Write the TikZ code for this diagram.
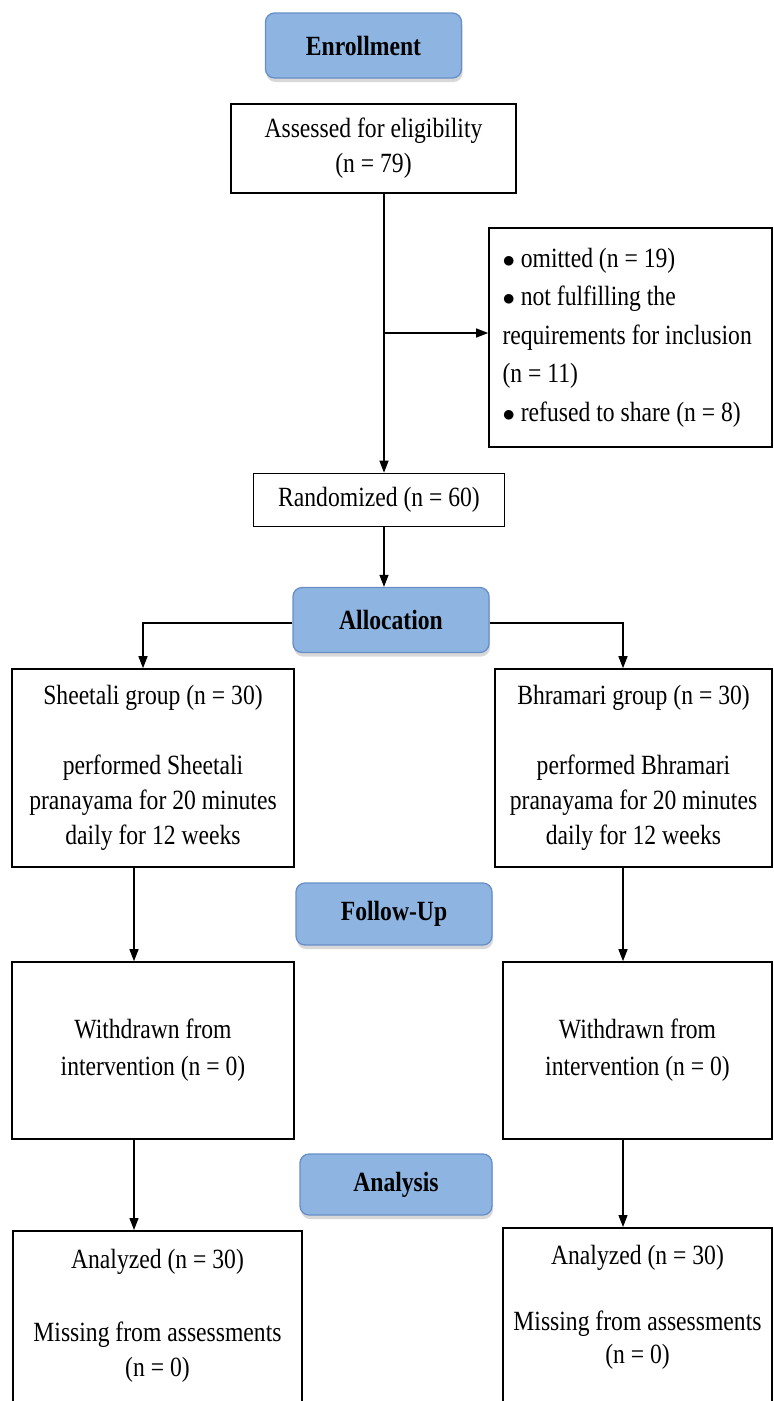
\documentclass[tikz,border=0pt]{standalone}
\usepackage{fontspec}
\setmainfont{Liberation Serif}[FakeStretch=0.85]
\usetikzlibrary{arrows.meta,shadows}
\definecolor{stageblue}{RGB}{142,180,226}
\definecolor{stageedge}{RGB}{104,142,200}

\begin{document}
\begin{tikzpicture}[x = 1pt, y = -1pt, font = \fontsize{27.8}{35}\selectfont]
\tikzstyle{StageStyle}=[rounded corners = 9pt,
                        fill = stageblue,
                        draw = stageedge,
                        line width = 1.3pt,
                        minimum width = 196pt,
                        minimum height = 65pt,
                        font = \fontsize{27.8}{35}\selectfont\bfseries,
                        drop shadow = {opacity = 0.3, shadow xshift = 1pt, shadow yshift = -4pt}]
\tikzstyle{BoxStyle}=[draw, line width = 1.6pt, align = flush center, inner sep = 0pt]
\tikzstyle{ArrowStyle}=[line width = 1.3pt, -{Triangle[length = 12pt, width = 9pt]}]
\clip (0,0) rectangle (774,1401);
\fill[white] (0,0) rectangle (774,1401);
\node[StageStyle] (enrol) at (363.5,45.5) {Enrollment};
\node[BoxStyle, minimum width = 285, minimum height = 89] (assess) at (373.5,148.5) {Assessed for eligibility\\(n = 79)};
\node[BoxStyle, minimum width = 283, minimum height = 219, text width = 256, align = flush left,
      font = \fontsize{27.8}{38.5}\selectfont] (excl) at (630.5,337.5)
     {$\bullet$ omitted (n = 19)\\$\bullet$ not fulfilling the\\requirements for inclusion\\(n = 11)\\$\bullet$ refused to share (n = 8)};
\node[BoxStyle, minimum width = 251, minimum height = 53] (rand) at (379,500) {Randomized (n = 60)};
\node[StageStyle] (alloc) at (391,620) {Allocation};
\node[BoxStyle, minimum width = 282, minimum height = 198] (sheet) at (153,768)
     {Sheetali group (n = 30)\\[35pt]performed Sheetali\\pranayama for 20 minutes\\daily for 12 weeks};
\node[BoxStyle, minimum width = 277, minimum height = 198] (bhram) at (633.5,768)
     {Bhramari group (n = 30)\\[35pt]performed Bhramari\\pranayama for 20 minutes\\daily for 12 weeks};
\node[StageStyle, minimum height = 62pt] (follow) at (394,914) {Follow-Up};
\node[BoxStyle, minimum width = 282, minimum height = 177, font = \fontsize{27.8}{37}\selectfont] (withL) at (153,1050.5)
     {Withdrawn from\\intervention (n = 0)};
\node[BoxStyle, minimum width = 269, minimum height = 177, font = \fontsize{27.8}{37}\selectfont] (withR) at (637.5,1050.5)
     {Withdrawn from\\intervention (n = 0)};
\node[StageStyle, minimum width = 192pt, minimum height = 61pt] (analysis) at (396,1184.5) {Analysis};
\node[BoxStyle, anchor = north, text width = 289, inner ysep = 18pt, text depth = 250pt] (anaL) at (157.5,1230)
     {Analyzed (n = 30)\\[38pt]Missing from assessments\\(n = 0)};
\node[BoxStyle, anchor = north, text width = 269, inner ysep = 17pt, text depth = 250pt,
      font = \fontsize{27.8}{33}\selectfont] (anaR) at (637.5,1227)
     {Analyzed (n = 30)\\[33pt]Missing from assessments\\(n = 0)};
\coordinate (split) at (384,333);
\coordinate (lcol) at (143,0);
\coordinate (lcolb) at (134,0);
\coordinate (rcol) at (623,0);
\draw[ArrowStyle] (assess.south -| split) -- (rand.north -| split);
\draw[ArrowStyle] (split) -- (split -| excl.west);
\draw[ArrowStyle] (rand.south -| split) -- (alloc.north -| split);
\draw[ArrowStyle] ([yshift = -3pt]alloc.west) -| (sheet.north -| lcol);
\draw[ArrowStyle] ([yshift = -3pt]alloc.east) -| (bhram.north -| rcol);
\draw[ArrowStyle] (sheet.south -| lcolb) -- (withL.north -| lcolb);
\draw[ArrowStyle] (bhram.south -| rcol) -- (withR.north -| rcol);
\draw[ArrowStyle] (withL.south -| lcolb) -- (anaL.north -| lcolb);
\draw[ArrowStyle] (withR.south -| rcol) -- (anaR.north -| rcol);
\end{tikzpicture}
\end{document}
